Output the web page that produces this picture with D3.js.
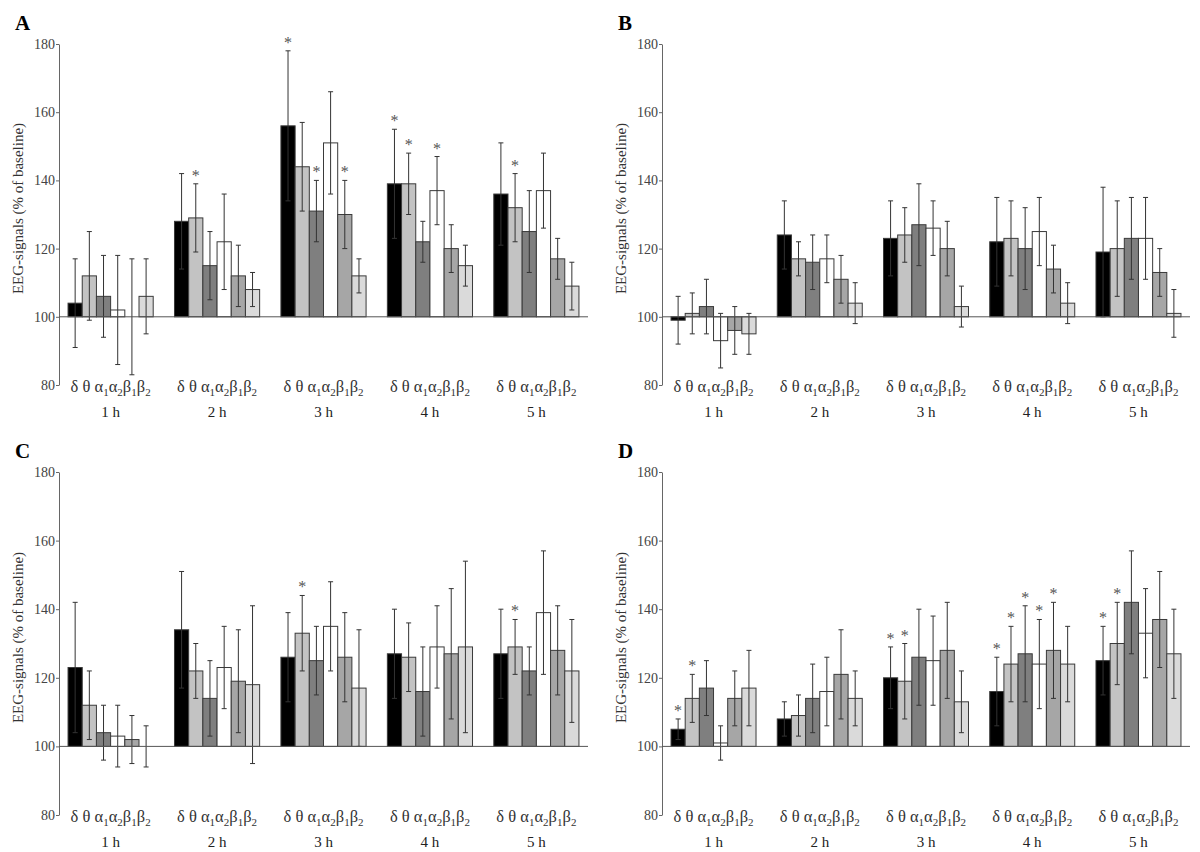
<!DOCTYPE html>
<html>
<head>
<meta charset="utf-8">
<script src="https://cdn.jsdelivr.net/npm/d3@7/dist/d3.min.js"></script>
<style>
  body { margin: 0; background: #fff; }
  svg, svg text, svg tspan { font-family: "Liberation Serif", "Tinos", "Times New Roman", Times, serif !important; }
</style>
</head>
<body>
<svg id="chart" width="1200" height="852" font-family="Liberation Serif"></svg>
<script>
// ---------- data ----------
const hours = ["1 h", "2 h", "3 h", "4 h", "5 h"];
const bands = ["δ", "θ", "α1", "α2", "β1", "β2"];
const yTicks = [80, 100, 120, 140, 160, 180];
const baseline = 100;

// Panel A
const meansA = [
  [104, 112, 106, 102, 100, 106],
  [128, 129, 115, 122, 112, 108],
  [156, 144, 131, 151, 130, 112],
  [139, 139, 122, 137, 120, 115],
  [136, 132, 125, 137, 117, 109]
];
const errA = [
  [13, 13, 12, 16, 17, 11],
  [14, 10, 10, 14, 9, 5],
  [22, 13, 9, 15, 10, 5],
  [16, 9, 6, 10, 7, 6],
  [15, 10, 12, 11, 6, 7]
];
const starsA = [[1, 1], [2, 0], [2, 2], [2, 4], [3, 0], [3, 1], [3, 3], [4, 1]];

// Panel B
const meansB = [
  [99, 101, 103, 93, 96, 95],
  [124, 117, 116, 117, 111, 104],
  [123, 124, 127, 126, 120, 103],
  [122, 123, 120, 125, 114, 104],
  [119, 120, 123, 123, 113, 101]
];
const errB = [
  [7, 6, 8, 8, 7, 6],
  [10, 5, 8, 7, 7, 6],
  [11, 8, 12, 8, 8, 6],
  [13, 11, 12, 10, 7, 6],
  [19, 14, 12, 12, 7, 7]
];
const starsB = [];

// Panel C
const meansC = [
  [123, 112, 104, 103, 102, 100],
  [134, 122, 114, 123, 119, 118],
  [126, 133, 125, 135, 126, 117],
  [127, 126, 116, 129, 127, 129],
  [127, 129, 122, 139, 128, 122]
];
const errC = [
  [19, 10, 8, 9, 7, 6],
  [17, 8, 11, 12, 15, 23],
  [13, 11, 10, 13, 13, 17],
  [13, 10, 13, 12, 19, 25],
  [13, 8, 7, 18, 13, 15]
];
const starsC = [[2, 1], [4, 1]];

// Panel D
const meansD = [
  [105, 114, 117, 101, 114, 117],
  [108, 109, 114, 116, 121, 114],
  [120, 119, 126, 125, 128, 113],
  [116, 124, 127, 124, 128, 124],
  [125, 130, 142, 133, 137, 127]
];
const errD = [
  [3, 7, 8, 5, 8, 11],
  [5, 6, 10, 10, 13, 8],
  [9, 11, 14, 13, 14, 9],
  [10, 11, 14, 13, 14, 11],
  [10, 12, 15, 13, 14, 13]
];
const starsD = [[0, 0], [0, 1], [2, 0], [2, 1], [3, 0], [3, 1], [3, 2], [3, 3], [3, 4], [4, 0], [4, 1]];

// ---------- styling / layout ----------
const bandColors = ["#000000", "#c3c3c3", "#7f7f7f", "#ffffff", "#a6a6a6", "#dadada"];
const FONT = "Liberation Serif, Times New Roman, serif";

const panels = [
  { letter: "A", means: meansA, err: errA, stars: starsA, x0: 59, x1: 588, yTop: 44, yBot: 385 },
  { letter: "B", means: meansB, err: errB, stars: starsB, x0: 662, x1: 1190, yTop: 44, yBot: 385 },
  { letter: "C", means: meansC, err: errC, stars: starsC, x0: 59, x1: 588, yTop: 472, yBot: 815 },
  { letter: "D", means: meansD, err: errD, stars: starsD, x0: 662, x1: 1190, yTop: 472, yBot: 815 }
];

const svg = d3.select("#chart");

panels.forEach(p => {
  const g = svg.append("g").attr("font-family", FONT);
  const y = d3.scaleLinear().domain([80, 180]).range([p.yBot, p.yTop]);
  const x = d3.scaleBand().domain(hours).range([p.x0, p.x1]).paddingInner(0.2).paddingOuter(0.085);
  const xi = d3.scaleBand().domain(bands).range([0, x.bandwidth()]).padding(0);

  // panel letter
  g.append("text")
    .attr("x", p.x0 - 44).attr("y", p.yTop - 14)
    .attr("font-size", 21).attr("font-weight", "bold").attr("fill", "#000")
    .text(p.letter);

  // y axis
  const axis = g.append("g")
    .attr("transform", `translate(${p.x0},0)`)
    .call(d3.axisLeft(y).tickValues(yTicks).tickSize(3).tickSizeOuter(0).tickPadding(1));
  axis.attr("font-family", FONT);
  axis.select(".domain").attr("stroke", "#666");
  axis.selectAll(".tick line").attr("stroke", "#666");
  axis.selectAll(".tick text")
    .attr("font-size", 14).attr("fill", "#444");

  // y label
  g.append("text")
    .attr("transform", `translate(${p.x0 - 36},${(p.yTop + p.yBot) / 2 - 6}) rotate(-90)`)
    .attr("text-anchor", "middle")
    .attr("font-size", 15).attr("fill", "#333")
    .text("EEG-signals (% of baseline)");

  // bars
  const data = [];
  hours.forEach((h, i) => bands.forEach((b, j) => {
    data.push({ h, b, j, v: p.means[i][j], e: p.err[i][j], hi: i });
  }));

  g.append("g").selectAll("rect").data(data).join("rect")
    .attr("x", d => x(d.h) + xi(d.b))
    .attr("width", xi.bandwidth())
    .attr("y", d => y(Math.max(d.v, baseline)))
    .attr("height", d => Math.abs(y(d.v) - y(baseline)))
    .attr("fill", d => bandColors[d.j])
    .attr("stroke", "#3a3a3a").attr("stroke-width", 1);

  // error bars
  const eb = g.append("g").attr("stroke", "#333").attr("stroke-width", 1);
  data.forEach(d => {
    const cx = x(d.h) + xi(d.b) + xi.bandwidth() / 2;
    const yt = y(d.v + d.e), yb = y(d.v - d.e);
    eb.append("line").attr("x1", cx).attr("x2", cx).attr("y1", yt).attr("y2", yb);
    eb.append("line").attr("x1", cx - 2.5).attr("x2", cx + 2.5).attr("y1", yt).attr("y2", yt);
    eb.append("line").attr("x1", cx - 2.5).attr("x2", cx + 2.5).attr("y1", yb).attr("y2", yb);
  });

  // baseline at 100
  g.append("line")
    .attr("x1", p.x0).attr("x2", p.x1)
    .attr("y1", y(baseline)).attr("y2", y(baseline))
    .attr("stroke", "#555").attr("stroke-width", 1);

  // significance stars
  p.stars.forEach(([hi, bj]) => {
    const v = p.means[hi][bj], e = p.err[hi][bj];
    const cx = x(hours[hi]) + xi(bands[bj]) + xi.bandwidth() / 2;
    g.append("text")
      .attr("x", cx).attr("y", y(v + e) - 3)
      .attr("text-anchor", "middle")
      .attr("font-size", 16).attr("fill", "#555")
      .text("*");
  });

  // band labels (with subscripts) and hour labels
  hours.forEach(h => {
    const cx = x(h) + x.bandwidth() / 2;
    const t = g.append("text")
      .attr("x", cx).attr("y", p.yBot + 7)
      .attr("text-anchor", "middle")
      .attr("font-size", 16.5).attr("fill", "#333");
    let prevSub = false;
    bands.forEach((b, k) => {
      const base = b[0], sub = b.slice(1);
      const sep = (k === 1 || k === 2) ? "\u00a0" : "";
      const bt = t.append("tspan").text(sep + base);
      if (prevSub) bt.attr("dy", -4);
      if (sub) {
        t.append("tspan").attr("dy", 4).attr("font-size", 11).text(sub);
        prevSub = true;
      } else {
        prevSub = false;
      }
    });
    g.append("text")
      .attr("x", cx).attr("y", p.yBot + 32)
      .attr("text-anchor", "middle")
      .attr("font-size", 15).attr("fill", "#222")
      .text(h);
  });
});
</script>
</body>
</html>
